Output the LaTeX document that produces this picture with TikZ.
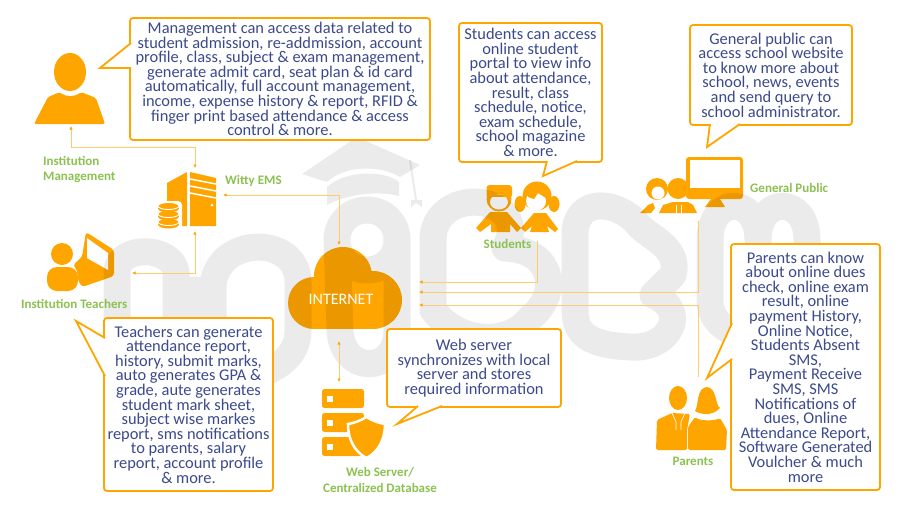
\documentclass[tikz,border=0pt]{standalone}
\usepackage{fontspec}
\setmainfont{Carlito}
\usetikzlibrary{arrows.meta}
\definecolor{iconorange}{HTML}{FFA500}
\definecolor{linkorange}{HTML}{FFCB70}
\definecolor{notetext}{HTML}{3C4A8C}
\definecolor{taggreen}{HTML}{8CC152}
\tikzset{
  note/.style={draw=iconorange,line width=1.8pt,fill=white,rounded corners=3pt,inner sep=0pt,
    align=center,text=notetext,font=\fontsize{16.4}{14.6}\selectfont},
  tail/.style={draw=iconorange,line width=1.8pt,fill=white},
  tag/.style={text=taggreen,align=left,inner sep=0pt,font=\fontsize{13}{15.5}\selectfont\bfseries},
  port/.style={inner sep=0pt,outer sep=0pt},
  icon/.style={fill=iconorange},
  link/.style={linkorange,line width=.9pt,
    {Latex[length=3.5pt,width=3.5pt,color=iconorange]}-{Latex[length=3.5pt,width=3.5pt,color=iconorange]}},
  linkin/.style={linkorange,line width=.9pt,{Latex[length=3.5pt,width=3.5pt,color=iconorange]}-},
}
\begin{document}
\begin{tikzpicture}[x=1pt,y=-1pt]
\useasboundingbox (0,0) rectangle (918,517);

% institution management
\fill[icon] (70,72) ellipse [x radius=16,y radius=19];
\fill[icon,rounded corners=2pt] (34,124) -- (48,97) -- (60,92) .. controls (65,97) and (75,97) .. (81,92) -- (96,98) -- (105,124) -- cycle;
% witty ems
\fill[icon] (167,183) -- (187,172) -- (187,226) -- (167,226) -- cycle;
\fill[icon] (190,172) -- (216,178) -- (216,226) -- (190,226) -- cycle;
\foreach \y in {179,186,193}
  \draw[white,line width=1.5pt] (190,\y) -- (216,\y+5);
\fill[white] (212,205) circle [radius=1.5];
\fill[white,rounded corners=4pt] (155,201) rectangle (182,230);
\foreach \y in {222,214,206}{
  \fill[icon] (158,\y) rectangle (179,\y+2.5);
  \fill[icon] (168.5,\y+2.5) ellipse [x radius=10.5,y radius=4];
  \filldraw[icon,draw=white,line width=.9pt] (168.5,\y) ellipse [x radius=10.5,y radius=3.5];
}
% teachers
\fill[icon] (62,254) circle [radius=11];
\fill[icon,rounded corners=10pt] (47,291) -- (47,267) -- (78,267) -- (78,291) -- cycle;
\fill[icon,rounded corners=3pt] (86,232) -- (114,250) -- (114,276) -- (82,287) -- (78,280) -- (77,270) -- (73,265) -- (82,257) -- cycle;
\fill[white] (87,238) -- (108,253) -- (108,270) -- (87,258) -- cycle;
% cloud
\fill[icon] (343,276) circle [radius=29];
\fill[icon] (314,303) circle [radius=26];
\fill[icon] (373,300) circle [radius=29];
\fill[icon] (314,300) rectangle (373,329);
% web server
\foreach \y in {389,413,437}{
  \fill[icon,rounded corners=2.5pt] (322,\y) rectangle (364,\y+19);
  \fill[white] (327,\y+6.5) rectangle (333,\y+12.5);
}
\filldraw[icon,draw=white,line width=2.5pt] (366.5,417) .. controls (360,421) and (354,423) .. (348,424) .. controls (348,440) and (355,452) .. (366.5,458) .. controls (378,452) and (385,440) .. (385,424) .. controls (379,423) and (373,421) .. (366.5,417) -- cycle;
% students
\fill[icon,rounded corners=3pt] (486.5,185) rectangle (512,198);
\fill[icon] (499,199) circle [radius=12.5];
\fill[white] (499,202) ellipse [x radius=9,y radius=7.5];
\fill[icon] (488,195) rectangle (510,197);
\fill[icon] (476,228) -- (490,212) -- (507,212) -- (521,228) -- (517,232) -- (510,224) -- (510,232) -- (491,232) -- (491,224) -- (480,232) -- cycle;
\fill[icon] (537,196) circle [radius=14.5];
\fill[icon] (520,204) ellipse [x radius=5.5,y radius=8];
\fill[icon] (554,204) ellipse [x radius=5.5,y radius=8];
\fill[white] (536,201) circle [radius=10];
\fill[icon] (527,191) -- (546,191) -- (546,198) -- (538,193) -- (534,199) -- (528,197) -- cycle;
\fill[icon] (521,228) -- (534,213) -- (546,213) -- (558,229) -- (555,232) -- (547,226) -- (549,232) -- (530,232) -- (532,226) -- (525,232) -- cycle;
% general public
\fill[icon] (657,189) circle [radius=11];
\fill[white] (658,193) circle [radius=6.5];
\fill[icon] (640,213) -- (648,205) -- (653,203) -- (655,208) -- (651,213) -- cycle;
\fill[icon] (678,188.5) circle [radius=10.5];
\fill[icon] (659,213) -- (663,205) -- (673,202) -- (688,202) -- (693,205) -- (697,213) -- cycle;
\draw[white,line width=.6pt] (676,205) -- (676,213) (681,205) -- (681,213);
\fill[icon,rounded corners=3pt] (686,157) rectangle (743,199);
\fill[white] (690,160) rectangle (740,188);
\fill[icon] (711,199) -- (720,199) -- (725,207) -- (705,207) -- cycle;
% parents
\fill[icon] (678,398) ellipse [x radius=9,y radius=12];
\fill[icon,rounded corners=1.5pt] (656,450) -- (657,420) -- (672,413) -- (690,414) -- (687,430) -- (687,450) -- cycle;
\draw[white,line width=.6pt] (672,413) -- (676,422) -- (676,430) (685,413) -- (681,422) -- (681,430);
\fill[icon] (695,411) .. controls (699,405) and (696,388) .. (707,387) .. controls (717,388) and (715,405) .. (720,408) .. controls (716,412) and (712,414) .. (707,414) .. controls (702,414) and (698,413) .. (695,411) -- cycle;
\fill[icon,rounded corners=1.5pt] (688,450) -- (688,427) -- (695,417) .. controls (700,421) and (714,421) .. (720,418) -- (727,430) -- (726,450) -- cycle;

% watermark sits over the icons, under the notes
\draw[black,opacity=.08,line width=27pt,line cap=round,line join=round]
  (117,335) -- (117,272) .. controls (117,245) and (172,245) .. (176,272) -- (176,330)
  (195,330) -- (195,290)
  (213,330) -- (213,285) .. controls (218,235) and (298,235) .. (298,282) -- (298,330) .. controls (298,380) and (220,385) .. (190,380) .. controls (150,375) and (117,365) .. (117,335)
  (367,210) .. controls (350,210) and (337,223) .. (337,240) -- (340,330) .. controls (342,375) and (397,375) .. (397,330) -- (397,240) .. controls (397,223) and (384,210) .. (367,210)
  (337,240) .. controls (337,257) and (350,270) .. (367,270) .. controls (384,270) and (397,257) .. (397,240)
  (433,310) -- (433,240) .. controls (433,195) and (500,190) .. (510,225) .. controls (512,240) and (505,245) .. (505,248)
  (505,248) .. controls (555,250) and (560,295) .. (530,318) .. controls (510,345) and (460,345) .. (433,310)
  (575,310) -- (575,235) .. controls (575,195) and (620,200) .. (640,227) .. controls (655,240) and (680,250) .. (673,275) -- (653,295)
  (653,295) .. controls (690,310) and (670,350) .. (630,347) .. controls (590,345) and (575,335) .. (575,310)
  (710,300) -- (710,240) .. controls (710,195) and (758,195) .. (758,240) -- (758,290)
  (758,240) .. controls (758,195) and (807,195) .. (807,240) -- (807,280) .. controls (807,320) and (770,345) .. (740,335) .. controls (725,330) and (710,320) .. (710,300);
\fill[black,opacity=.08] (302,174) -- (357,137) -- (420,165) -- (400,177) .. controls (380,165) and (345,165) .. (327,182) -- cycle;
\fill[black,opacity=.08] (327,187) .. controls (345,170) and (385,170) .. (399,182) -- (399,196) .. controls (375,190) and (345,195) .. (327,205) -- cycle;
\draw[black,opacity=.08,line width=2pt] (410,160) -- (416,200);
\fill[black,opacity=.08] (411,200) -- (422,200) -- (422,207) -- (416,203) -- (411,207) -- cycle;

% connector ends
\node[port,minimum width=74pt,minimum height=74pt] (mgmticon) at (71,89) {};
\node[port,minimum width=56pt,minimum height=63pt] (server) at (195,199.5) {};
\node[port,minimum width=92pt,minimum height=60pt] (teachericon) at (86,273) {};
\node[port,minimum width=160pt,minimum height=96pt] (cloudbox) at (339,293) {};
\node[port,minimum width=50pt,minimum height=74pt] (webicon) at (339,419) {};
\coordinate (studentend) at (537,241);
\coordinate (publicend) at (698,221);
\coordinate (parentend) at (698,377);

\draw[link] (mgmticon.south) -- ++(0,21) -| (server.north);
\draw[link] (server.south) |- (teachericon.east);
\draw[link] ([yshift=4.5pt]server.east) -| (cloudbox.north);
\draw[link] (cloudbox.south) -- (webicon.north);
\draw[linkin] ([yshift=11pt]cloudbox.east) -| (studentend);
\draw[linkin] ([yshift=1pt]cloudbox.east) -| (publicend);
\draw[linkin] ([yshift=-12pt]cloudbox.east) -| (parentend);

% notes
\node[note,minimum width=300pt,minimum height=122pt] (mgmtnote) at (280,79) {Management can access data related to\\student admission, re-addmission, account\\profile, class, subject \& exam management,\\generate admit card, seat plan \& id card\\automatically, full account management,\\income, expense history \& report, RFID \&\\finger print based attendance \& access\\control \& more.};
\draw[tail] (131,43) -- (100,68) -- (131,68);
\node[note,minimum width=143pt,minimum height=139pt] (studentnote) at (530.5,92.5) {Students can access\\online student\\portal to view info\\about attendance,\\result, class\\schedule, notice,\\exam schedule,\\school magazine\\\& more.};
\draw[tail] (547,161) -- (543,176) -- (577,161);
\node[note,minimum width=162pt,minimum height=100pt] (publicnote) at (771,75) {General public can\\access school website\\to know more about\\school, news, events\\and send query to\\school administrator.};
\draw[tail] (710,124) -- (707,147) -- (740,124);
\node[note,minimum width=169pt,minimum height=173pt] (teachernote) at (188.5,404.5) {Teachers can generate\\attendance report,\\history, submit marks,\\auto generates GPA \&\\grade, aute generates\\student mark sheet,\\subject wise markes\\report, sms notifications\\to parents, salary\\report, account profile\\\& more.};
\draw[tail] (105,338) -- (76,321) -- (105,376);
\node[note,minimum width=174pt,minimum height=78pt] (webnote) at (474,368) {Web server\\synchronizes with local\\server and stores\\required information};
\draw[tail] (418,406) -- (397,424) -- (442,406);
\node[note,minimum width=149pt,minimum height=246pt] (parentnote) at (805.5,367) {Parents can know\\about online dues\\check, online exam\\result, online\\payment History,\\Online Notice,\\Students Absent\\SMS,\\Payment Receive\\SMS, SMS\\Notifications of\\dues, Online\\Attendance Report,\\Software Generated\\Voulcher \& much\\more};
\draw[tail] (732,323) -- (707,378) -- (732,359);

% tags
\node[tag,anchor=west] (mgmttag) at (43,169.5) {Institution\\Management};
\node[tag,anchor=west] (servertag) at (225,181) {Witty EMS};
\node[tag,anchor=west] (publictag) at (750,188) {General Public};
\node[tag] (studenttag) at (507.5,244) {Students};
\node[tag,anchor=west] (teachertag) at (21,304) {Institution Teachers};
\node[tag,align=center] (webtag) at (380,480) {Web Server/\\Centralized Database};
\node[tag] (parenttag) at (693,461) {Parents};
\node[text=white,inner sep=0pt,font=\fontsize{16}{16}\selectfont] (internet) at (341,299) {INTERNET};
\end{tikzpicture}
\end{document}
